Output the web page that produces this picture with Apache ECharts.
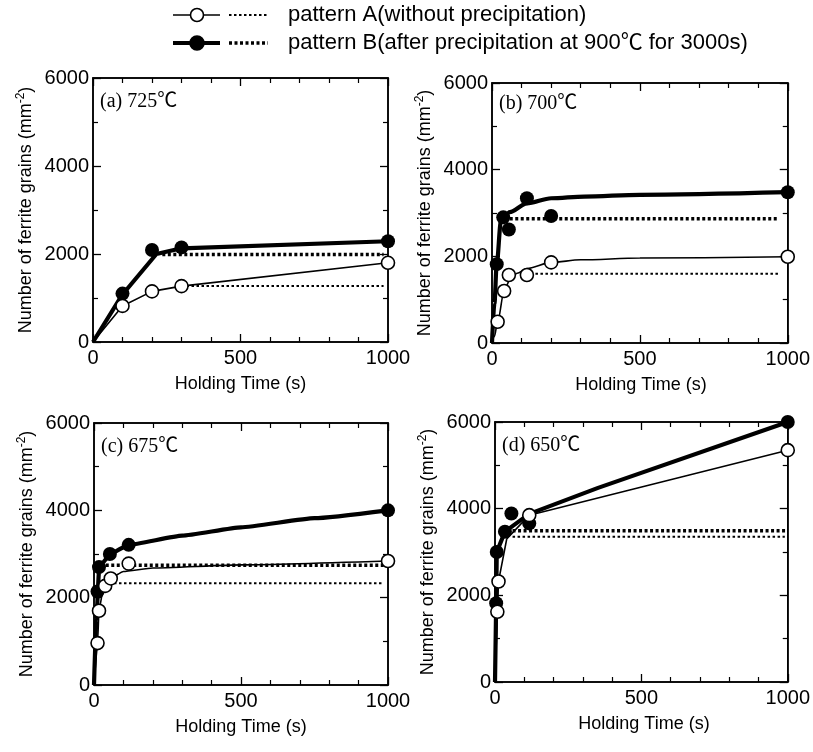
<!DOCTYPE html>
<html><head><meta charset="utf-8">
<script src="https://cdn.jsdelivr.net/npm/echarts@6/dist/echarts.min.js"></script>
<style>
html,body{margin:0;padding:0;background:#fff}
#wrap{position:relative;width:813px;height:752px}
#base,#over{position:absolute;left:0;top:0;width:813px;height:752px}
</style>
</head><body><div id="wrap"><div id="base"></div><div id="over"></div></div>
<script>
// ---------- data ----------
const panelTitles = ['(a) 725℃', '(b) 700℃', '(c) 675℃', '(d) 650℃'];
const xTickValues = [0, 500, 1000];
const yTickValues = [0, 2000, 4000, 6000];
const legendLabels = ['pattern A(without precipitation)', 'pattern B(after precipitation at 900℃ for 3000s)'];
const xAxisName = 'Holding Time (s)';
const yAxisName = 'Number of ferrite grains (mm';
const yAxisSup = '-2';

// (a) 725
const aPointTimeA = [100, 200, 300, 1000];
const aPointValA  = [820, 1150, 1270, 1800];
const aPointTimeB = [100, 200, 300, 1000];
const aPointValB  = [1100, 2090, 2150, 2290];
const aCurveTimeA = [0, 100, 200, 300, 1000];
const aCurveValA  = [0, 820, 1150, 1270, 1800];
const aCurveTimeB = [0, 100, 215, 300, 1000];
const aCurveValB  = [0, 1080, 2000, 2130, 2290];
const aLevelTimeA = [300, 985];
const aLevelValA  = [1270, 1270];
const aLevelTimeB = [235, 985];
const aLevelValB  = [1990, 1990];

// (b) 700
const bPointTimeA = [19, 41, 57, 118, 200, 1000];
const bPointValA  = [490, 1200, 1570, 1570, 1860, 1990];
const bPointTimeB = [16, 38, 57, 118, 200, 1000];
const bPointValB  = [1820, 2900, 2620, 3340, 2930, 3480];
const bCurveTimeA = [0, 8, 19, 41, 60, 85, 118, 200, 300, 500, 1000];
const bCurveValA  = [0, 150, 490, 1200, 1450, 1610, 1720, 1860, 1920, 1960, 1990];
const bCurveTimeB = [0, 8, 16, 30, 60, 118, 200, 312, 500, 1000];
const bCurveValB  = [0, 900, 1820, 2800, 3020, 3220, 3340, 3380, 3420, 3480];
const bLevelTimeA = [130, 970];
const bLevelValA  = [1600, 1600];
const bLevelTimeB = [60, 970];
const bLevelValB  = [2870, 2870];

// (c) 675
const cPointTimeA = [12, 17, 38, 57, 118, 1000];
const cPointValA  = [960, 1700, 2270, 2440, 2780, 2840];
const cPointTimeB = [12, 17, 54, 118, 1000];
const cPointValB  = [2140, 2700, 3000, 3210, 4000];
const cCurveTimeA = [0, 12, 17, 30, 57, 100, 200, 500, 1000];
const cCurveValA  = [0, 960, 1700, 2150, 2450, 2600, 2680, 2750, 2840];
const cCurveTimeB = [0, 8, 17, 30, 54, 118, 300, 500, 750, 1000];
const cCurveValB  = [0, 1500, 2600, 2800, 3000, 3210, 3420, 3610, 3820, 4000];
const cLevelTimeA = [68, 985];
const cLevelValA  = [2330, 2330];
const cLevelTimeB = [40, 985];
const cLevelValB  = [2740, 2740];

// (d) 650
const dPointTimeA = [8, 12, 117, 1000];
const dPointValA  = [1620, 2320, 3850, 5350];
const dPointTimeB = [4, 6, 34, 56, 117, 1000];
const dPointValB  = [1820, 3000, 3470, 3890, 3660, 6000];
const dCurveTimeA = [0, 8, 12, 40, 117, 1000];
const dCurveValA  = [0, 1620, 2320, 3300, 3850, 5350];
const dCurveTimeB = [0, 4, 6, 34, 117, 352, 1000];
const dCurveValB  = [0, 1820, 3000, 3470, 3880, 4480, 6000];
const dLevelTimeA = [60, 990];
const dLevelValA  = [3350, 3350];
const dLevelTimeB = [60, 1000];
const dLevelValB  = [3490, 3490];

// ---------- layout / style ----------
const SANS = "'Liberation Sans', Arial, Helvetica, 'Noto Sans CJK JP', sans-serif";
const SERIF = "'Liberation Serif', 'Times New Roman', 'Noto Sans CJK JP', serif";
const grids = [
  {left: 93, top: 78, width: 295, height: 264},
  {left: 492, top: 83, width: 298, height: 260},
  {left: 94, top: 423, width: 294, height: 262},
  {left: 495, top: 422, width: 298, height: 260}
];
const titlePos = [
  {left: 100, top: 92}, {left: 499, top: 94}, {left: 101, top: 437}, {left: 502, top: 436}
];
const panels = [
  {pa:[aPointTimeA,aPointValA], pb:[aPointTimeB,aPointValB], ca:[aCurveTimeA,aCurveValA], cb:[aCurveTimeB,aCurveValB], la:[aLevelTimeA,aLevelValA], lb:[aLevelTimeB,aLevelValB], smooth:false},
  {pa:[bPointTimeA,bPointValA], pb:[bPointTimeB,bPointValB], ca:[bCurveTimeA,bCurveValA], cb:[bCurveTimeB,bCurveValB], la:[bLevelTimeA,bLevelValA], lb:[bLevelTimeB,bLevelValB], smooth:0.3},
  {pa:[cPointTimeA,cPointValA], pb:[cPointTimeB,cPointValB], ca:[cCurveTimeA,cCurveValA], cb:[cCurveTimeB,cCurveValB], la:[cLevelTimeA,cLevelValA], lb:[cLevelTimeB,cLevelValB], smooth:0.15},
  {pa:[dPointTimeA,dPointValA], pb:[dPointTimeB,dPointValB], ca:[dCurveTimeA,dCurveValA], cb:[dCurveTimeB,dCurveValB], la:[dLevelTimeA,dLevelValA], lb:[dLevelTimeB,dLevelValB], smooth:false}
];
const pair = (xs, ys) => xs.map((x, i) => [x, ys[i]]);

function mkAxis(gridIndex, position, ticks, minorSplit, withLabel, visible) {
  return {
    gridIndex: gridIndex, type: 'value', position: position,
    min: ticks[0], max: ticks[ticks.length - 1], interval: ticks[1] - ticks[0],
    splitLine: {show: false},
    axisLine: {show: visible, onZero: false, lineStyle: {color: '#000', width: 1.5}},
    axisTick: {show: visible, inside: true, length: 8, lineStyle: {color: '#000', width: 1.3}},
    minorTick: {show: visible, splitNumber: minorSplit, length: 5, lineStyle: {color: '#000', width: 1.2}},
    axisLabel: (withLabel && visible)
      ? {show: true, color: '#000', fontSize: 20, fontFamily: SANS, margin: (position === 'left' ? 4 : 6), formatter: v => String(v)}
      : {show: false}
  };
}

// ---- base layer: frames, axes with ticks and tick labels, data marks ----
const baseX = [], baseY = [], series = [];
grids.forEach((g, i) => {
  baseX.push(mkAxis(i, 'bottom', xTickValues, 5, true, true), mkAxis(i, 'top', xTickValues, 5, false, true));
  baseY.push(mkAxis(i, 'left', yTickValues, 2, true, true), mkAxis(i, 'right', yTickValues, 2, false, true));
  const p = panels[i];
  const ax = {xAxisIndex: 2 * i, yAxisIndex: 2 * i};
  series.push(Object.assign({type: 'line', data: pair(...p.la), showSymbol: false, z: 2,
    lineStyle: {color: '#000', width: 2, type: [2.5, 2.5]}}, ax));
  series.push(Object.assign({type: 'line', data: pair(...p.lb), showSymbol: false, z: 2,
    lineStyle: {color: '#000', width: 3.5, type: [3, 2.5]}}, ax));
  series.push(Object.assign({type: 'line', data: pair(...p.ca), showSymbol: false, z: 2,
    smooth: p.smooth, smoothMonotone: 'x', lineStyle: {color: '#000', width: 1.6}}, ax));
  series.push(Object.assign({type: 'line', data: pair(...p.cb), showSymbol: false, z: 2,
    smooth: p.smooth, smoothMonotone: 'x', lineStyle: {color: '#000', width: 4.2}}, ax));
  series.push(Object.assign({type: 'scatter', data: pair(...p.pb), symbol: 'circle', symbolSize: 14, z: 3,
    itemStyle: {color: '#000', opacity: 1}}, ax));
  series.push(Object.assign({type: 'scatter', data: pair(...p.pa), symbol: 'circle', symbolSize: 13, z: 4,
    itemStyle: {color: '#fff', borderColor: '#000', borderWidth: 1.6, opacity: 1}}, ax));
});
const base = echarts.init(document.getElementById('base'), null, {renderer: 'canvas'});
base.setOption({
  backgroundColor: '#fff', animation: false,
  grid: grids.map(g => Object.assign({show: true, borderColor: '#000', borderWidth: 1.5}, g)),
  xAxis: baseX, yAxis: baseY, series: series
});

// ---- overlay layer: axis names, panel labels, legend ----
const overX = [], overY = [], titles = [];
grids.forEach((g, i) => {
  const xb = mkAxis(i, 'bottom', xTickValues, 5, false, false);
  xb.name = xAxisName; xb.nameLocation = 'middle'; xb.nameGap = 33;
  xb.nameTextStyle = {color: '#000', fontSize: 18, fontFamily: SANS};
  overX.push(xb);
  const yl = mkAxis(i, 'left', yTickValues, 2, false, false);
  yl.name = '{a|' + yAxisName + '}{s|' + yAxisSup + '}{a|)}'; yl.nameLocation = 'middle'; yl.nameGap = 56;
  yl.nameTextStyle = {color: '#000', fontFamily: SANS, rich: {
    a: {fontSize: 18, fontFamily: SANS, color: '#000', lineHeight: 22},
    s: {fontSize: 12, fontFamily: SANS, color: '#000', verticalAlign: 'top', lineHeight: 12}
  }};
  overY.push(yl);
  titles.push({text: panelTitles[i], left: titlePos[i].left, top: titlePos[i].top, padding: 0,
    textStyle: {fontFamily: SERIF, fontSize: 20, fontWeight: 'normal', color: '#000'}});
});

const legendRows = [{y: 15, lw: 1.6, filled: false, r: 6.5, dw: 2, dash: [2.5, 2.5]},
                    {y: 43, lw: 4.2, filled: true, r: 7, dw: 3.5, dash: [3, 2.5]}];
const graphic = [];
legendRows.forEach((r, i) => {
  graphic.push({type: 'line', shape: {x1: 173, y1: r.y, x2: 220, y2: r.y}, style: {stroke: '#000', lineWidth: r.lw}});
  graphic.push({type: 'circle', shape: {cx: 197, cy: r.y, r: r.r}, style: {fill: r.filled ? '#000' : '#fff', stroke: '#000', lineWidth: 1.6}});
  graphic.push({type: 'line', shape: {x1: 229, y1: r.y, x2: 268, y2: r.y}, style: {stroke: '#000', lineWidth: r.dw, lineDash: r.dash}});
  graphic.push({type: 'text', x: 288, y: r.y, style: {text: legendLabels[i], fill: '#000', font: '22px ' + SANS, verticalAlign: 'middle'}});
});

const over = echarts.init(document.getElementById('over'), null, {renderer: 'canvas'});
over.setOption({
  backgroundColor: 'transparent', animation: false,
  title: titles,
  grid: grids.map(g => Object.assign({show: false}, g)),
  xAxis: overX, yAxis: overY, graphic: graphic
});
</script></body></html>
